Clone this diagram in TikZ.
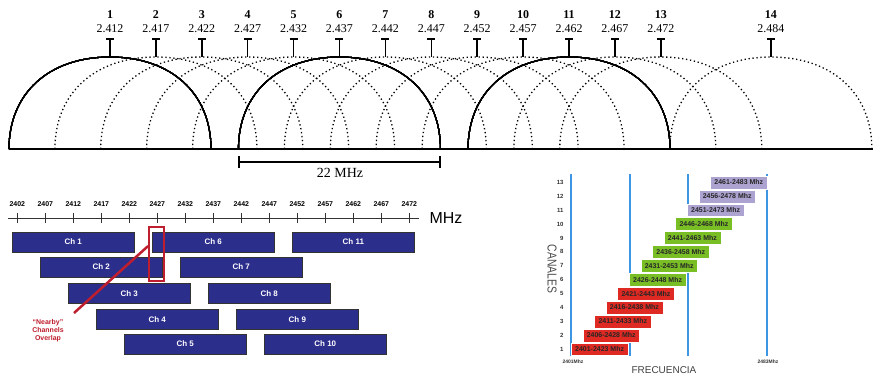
\documentclass[tikz,border=0pt]{standalone}
\usepackage{fontspec}
\setmainfont{Liberation Serif}
\setsansfont{Liberation Sans}
\definecolor{azulcanal}{RGB}{44,46,140}
\definecolor{rojoaviso}{RGB}{190,30,45}
\definecolor{rojobarra}{RGB}{222,42,34}
\definecolor{verdebarra}{RGB}{122,190,38}
\definecolor{lilabarra}{RGB}{172,163,208}
\definecolor{azullinea}{RGB}{60,150,225}
\tikzset{
    arco/.style ={
        line width = 1.1pt          % solid arc of channels 1, 6, 11
    },
    arcopunt/.style ={
        line width = 1.3pt,         % dotted arc of the other channels
        dash pattern = on 1.3pt off 2.7pt
    },
    canal/.style ={
        rectangle,                  % bar of one channel
        minimum width  = 123,
        minimum height = 20,
        inner sep = 0pt,
        fill = azulcanal,
        draw = black!80,
        line width = 0.8pt,
        text = white,
        font = \sffamily\bfseries\fontsize{8}{9}\selectfont
    },
    franja/.style ={
        rectangle,                  % bar of the right chart
        minimum width  = 57,
        minimum height = 13,
        inner sep = 0pt,
        draw = white,
        line width = 0.4pt,
        text = black!85,
        font = \sffamily\bfseries\fontsize{7}{8}\selectfont
    }
}
% half arc of one channel, a bit squarer than an ellipse
\newcommand{\canalarco}[2]{%
    \draw[#1] (p#2) .. controls ++(0,-56) and ++(-61,0) .. (a#2)
                    .. controls ++(61,0) and ++(0,-56) .. (q#2);
}

\begin{document}
\begin{tikzpicture}[x=1bp, y=-1bp]
    \useasboundingbox (0,0) rectangle (884,382);

    % ---- arcs of the 14 channels
    \foreach \k/\fr in {1/2.412,2/2.417,3/2.422,4/2.427,5/2.432,6/2.437,7/2.442,
                        8/2.447,9/2.452,10/2.457,11/2.462,12/2.467,13/2.472,14/2.484} {
        \pgfmathsetmacro\cx{110+(\fr-2.412)*9180}
        \node[font=\bfseries\fontsize{12}{13}\selectfont] (n\k) at (\cx,15) {\k};
        \node[font=\fontsize{12}{13}\selectfont] (f\k) at (\cx,29) {\fr};
        \coordinate (t\k) at (\cx,39);
        \coordinate (a\k) at (\cx,57);
        \coordinate (p\k) at (\cx-101,149);
        \coordinate (q\k) at (\cx+101,149);
        \draw[line width=1.6pt] (t\k) -- (a\k);
        \draw[line width=1.6pt] ([xshift=-4]t\k) -- ([xshift=4]t\k);
    }
    \foreach \k in {2,3,4,5,7,8,9,10,12,13,14}
        \canalarco{arcopunt}{\k}
    \foreach \k in {1,6,11}
        \canalarco{arco}{\k}
    \coordinate (base0) at (9,149);
    \coordinate (base1) at (873,149);
    \draw[line width=2pt] (base0) -- (base1);

    % ---- 22 MHz
    \coordinate (m0) at (239,162);
    \coordinate (m1) at (440,162);
    \draw[line width=2pt] (m0) -- (m1);
    \draw[line width=1.5pt] ([yshift=-6]m0) -- ([yshift=6]m0);
    \draw[line width=1.5pt] ([yshift=-6]m1) -- ([yshift=6]m1);
    \node[font=\fontsize{14}{15}\selectfont] (ancho) at (340,173) {22 MHz};

    % ---- frequency axis
    \coordinate (e0) at (8,218);
    \coordinate (e1) at (419,218);
    \draw[line width=0.8pt, black!80] (e0) -- (e1);
    \foreach \f [count=\i from 0] in {2402,2407,...,2472} {
        \draw[line width=0.8pt, black!80] (17.3+28*\i,213) -- (17.3+28*\i,223);
        \node[font=\sffamily\bfseries\fontsize{7}{8}\selectfont] (x\f) at (17.3+28*\i,204) {\f};
    }
    \node[font=\sffamily\fontsize{16}{17}\selectfont, anchor=west] (mhz) at (426,218) {MHz};

    % ---- channel bars
    \foreach \n in {1,...,11} {
        \pgfmathtruncatemacro\fila{mod(\n-1,5)}
        \pgfmathsetmacro\yc{{242,267,293.5,319.5,344}[\fila]}
        \node[canal] (ch\n) at (73.3+28*\n-28,\yc) {Ch \n};
    }

    % ---- overlap
    \node[draw=rojoaviso, line width=1.8pt, minimum width=15, minimum height=54, inner sep=0pt] (solape) at (156.5,254) {};
    \coordinate (punta) at (74,313);
    \draw[rojoaviso, line width=2.5pt] (solape.west) ++(0,-8) -- (punta);
    \node[text=rojoaviso, align=center, font=\sffamily\bfseries\fontsize{7}{8.2}\selectfont] (aviso) at (48,331) {``Nearby''\\Channels\\Overlap};

    % ---- right chart
    \foreach \xl [count=\j] in {570.5,629.5,687.5,766.5} {
        \coordinate (v\j) at (\xl,174);
        \coordinate (w\j) at (\xl,356);
        \draw[azullinea, line width=2pt] (v\j) -- (w\j);
    }
    \foreach \n in {1,...,13} {
        \pgfmathsetmacro\yc{349.2-13.9*(\n-1)}
        \pgfmathtruncatemacro\lo{2401+5*(\n-1)}
        \pgfmathtruncatemacro\hi{\lo+22}
        \ifnum\n<6 \def\col{rojobarra}\else\ifnum\n<11 \def\col{verdebarra}\else\def\col{lilabarra}\fi\fi
        \node[franja, fill=\col, anchor=west] (b\n) at (571+11.6*\n-11.6,\yc) {\lo-\hi\ Mhz};
        \node[font=\sffamily\bfseries\fontsize{6}{7}\selectfont, text=black!80, anchor=east] (c\n) at (567,\yc) {\n};
    }
    \node[font=\sffamily\fontsize{13}{14}\selectfont, text=black!70, rotate=-90] (canales) at (552,269) {\scalebox{0.8}[1]{CANALES}};
    \node[font=\sffamily\fontsize{10}{11}\selectfont, text=black!75] (frec) at (664,370) {FRECUENCIA};
    \node[font=\sffamily\bfseries\fontsize{5}{6}\selectfont, text=black!80] (lo) at (573,362) {2401Mhz};
    \node[font=\sffamily\bfseries\fontsize{5}{6}\selectfont, text=black!80] (hi) at (768,362) {2483Mhz};
\end{tikzpicture}
\end{document}
